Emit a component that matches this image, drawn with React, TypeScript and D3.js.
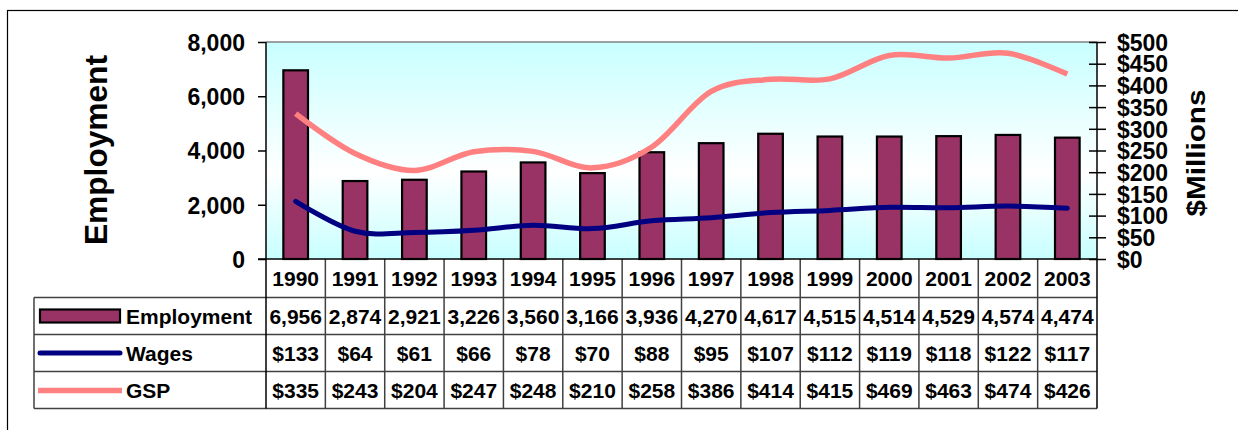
import React, { useEffect, useRef } from 'react';
import * as d3 from 'd3';

const years = ['1990', '1991', '1992', '1993', '1994', '1995', '1996', '1997', '1998', '1999', '2000', '2001', '2002', '2003'];
const employment = [6956, 2874, 2921, 3226, 3560, 3166, 3936, 4270, 4617, 4515, 4514, 4529, 4574, 4474];
const wages = [133, 64, 61, 66, 78, 70, 88, 95, 107, 112, 119, 118, 122, 117];
const gsp = [335, 243, 204, 247, 248, 210, 258, 386, 414, 415, 469, 463, 474, 426];

const employmentTicks = [0, 2000, 4000, 6000, 8000];
const millionTicks = [0, 50, 100, 150, 200, 250, 300, 350, 400, 450, 500];

const FONT = "'Liberation Sans', Arial, sans-serif";
const BAR_COLOR = '#993366';
const WAGES_COLOR = '#000080';
const GSP_COLOR = '#FF8080';

const App = () => {
    const svgRef = useRef(null);

    useEffect(() => {
        const svg = d3.select(svgRef.current);
        svg.selectAll('*').remove();

        const plot = { left: 266, right: 1097, top: 42, bottom: 259 };
        const tableTop = 297.5;
        const rowH = 37;
        const tableLeft = 34;
        const tableBottom = tableTop + rowH * 3;

        // outer frame (runs off the right / bottom edge)
        svg.append('rect')
            .attr('x', 7.5).attr('y', 10.5)
            .attr('width', 1300).attr('height', 500)
            .attr('fill', 'none').attr('stroke', '#000').attr('stroke-width', 1.2);

        const grad = svg.append('defs').append('linearGradient')
            .attr('id', 'plotBg').attr('x1', 0).attr('y1', 0).attr('x2', 0).attr('y2', 1);
        grad.append('stop').attr('offset', 0).attr('stop-color', '#c8ffff');
        grad.append('stop').attr('offset', 0.6).attr('stop-color', '#ffffff');
        grad.append('stop').attr('offset', 1).attr('stop-color', '#c8ffff');

        svg.append('rect')
            .attr('x', plot.left).attr('y', plot.top)
            .attr('width', plot.right - plot.left).attr('height', plot.bottom - plot.top)
            .attr('fill', 'url(#plotBg)');
        svg.append('line')
            .attr('x1', plot.left).attr('x2', plot.right)
            .attr('y1', plot.top).attr('y2', plot.top)
            .attr('stroke', '#808080').attr('stroke-width', 1.5);

        const x = d3.scaleBand().domain(years).range([plot.left, plot.right]);
        const yL = d3.scaleLinear().domain([0, 8000]).range([plot.bottom, plot.top]);
        const yR = d3.scaleLinear().domain([0, 500]).range([plot.bottom, plot.top]);
        const cx = (d: string) => (x(d) as number) + x.bandwidth() / 2;
        const barW = x.bandwidth() * 0.415;

        // bars
        svg.append('g').selectAll('rect')
            .data(employment)
            .join('rect')
            .attr('x', (_, i) => cx(years[i]) - barW / 2)
            .attr('y', d => yL(d))
            .attr('width', barW)
            .attr('height', d => plot.bottom - yL(d))
            .attr('fill', BAR_COLOR)
            .attr('stroke', '#000')
            .attr('stroke-width', 2.2);

        // smoothed lines on the right axis
        const line = d3.line<number>()
            .x((_, i) => cx(years[i]))
            .y(d => yR(d))
            .curve(d3.curveCardinal.tension(0));

        svg.append('path').datum(wages)
            .attr('fill', 'none').attr('stroke', WAGES_COLOR)
            .attr('stroke-width', 5).attr('stroke-linecap', 'round')
            .attr('d', line);
        svg.append('path').datum(gsp)
            .attr('fill', 'none').attr('stroke', GSP_COLOR)
            .attr('stroke-width', 5.5)
            .attr('d', line);

        // left axis
        const left = svg.append('g')
            .attr('transform', `translate(${plot.left},0)`)
            .call(d3.axisLeft(yL).tickValues(employmentTicks).tickSize(8).tickSizeOuter(0).tickPadding(13).tickFormat(d3.format(',')));
        left.select('.domain').remove();
        left.selectAll('.tick line').attr('stroke', '#000').attr('stroke-width', 1.5);
        left.selectAll('.tick text')
            .attr('font-family', FONT).attr('font-weight', 'bold').attr('font-size', 23)
            .attr('dy', '0.36em').attr('fill', '#000');

        // right axis with ticks crossing the line
        const right = svg.append('g')
            .attr('transform', `translate(${plot.right},0)`)
            .call(d3.axisRight(yR).tickValues(millionTicks).tickSize(9).tickSizeOuter(0).tickPadding(11).tickFormat(d => `$${d}`));
        right.select('.domain').remove();
        right.selectAll('.tick line').attr('x1', -8).attr('stroke', '#000').attr('stroke-width', 1.5);
        right.selectAll('.tick text')
            .attr('font-family', FONT).attr('font-weight', 'bold').attr('font-size', 23)
            .attr('dy', '0.36em').attr('fill', '#000');

        // axis titles
        svg.append('text')
            .attr('transform', `translate(107,150) rotate(-90)`)
            .attr('text-anchor', 'middle')
            .attr('font-family', FONT).attr('font-weight', 'bold').attr('font-size', 31)
            .attr('textLength', 190).attr('lengthAdjust', 'spacingAndGlyphs')
            .text('Employment');
        svg.append('text')
            .attr('transform', `translate(1205,153) rotate(-90)`)
            .attr('text-anchor', 'middle')
            .attr('font-family', FONT).attr('font-weight', 'bold').attr('font-size', 25)
            .attr('textLength', 127).attr('lengthAdjust', 'spacingAndGlyphs')
            .text('$Millions');

        // data table
        const grid = svg.append('g').attr('stroke', '#404040').attr('stroke-width', 1.5);
        years.forEach((yr, i) => {
            if (i === 0) return;
            grid.append('line')
                .attr('x1', x(yr) as number).attr('x2', x(yr) as number)
                .attr('y1', plot.bottom).attr('y2', tableBottom);
        });
        grid.append('line').attr('x1', tableLeft).attr('x2', tableLeft).attr('y1', tableTop).attr('y2', tableBottom);
        [0, 1, 2, 3].forEach(r => {
            grid.append('line')
                .attr('x1', tableLeft).attr('x2', plot.right)
                .attr('y1', tableTop + r * rowH).attr('y2', tableTop + r * rowH);
        });

        // axis lines on top of the table grid
        svg.append('line').attr('x1', plot.left).attr('x2', plot.left).attr('y1', plot.top).attr('y2', tableBottom)
            .attr('stroke', '#000').attr('stroke-width', 1.5);
        svg.append('line').attr('x1', plot.right).attr('x2', plot.right).attr('y1', plot.top).attr('y2', tableBottom)
            .attr('stroke', '#000').attr('stroke-width', 1.5);
        svg.append('line').attr('x1', plot.left - 8).attr('x2', plot.right).attr('y1', plot.bottom).attr('y2', plot.bottom)
            .attr('stroke', '#000').attr('stroke-width', 1.5);

        const cellText = (g: any, xPos: number, yPos: number, txt: string, anchor = 'middle') =>
            g.append('text')
                .attr('x', xPos).attr('y', yPos).attr('dy', '0.36em')
                .attr('text-anchor', anchor)
                .attr('font-family', FONT).attr('font-weight', 'bold').attr('font-size', 21)
                .text(txt);

        const txt = svg.append('g');
        years.forEach(yr => cellText(txt, cx(yr), (plot.bottom + tableTop) / 2, yr));

        const rows = [
            employment.map(d => d3.format(',')(d)),
            wages.map(d => `$${d}`),
            gsp.map(d => `$${d}`),
        ];
        const rowNames = ['Employment', 'Wages', 'GSP'];
        rows.forEach((vals, r) => {
            const yMid = tableTop + rowH * r + rowH / 2;
            vals.forEach((v, i) => cellText(txt, cx(years[i]), yMid, v));
            cellText(txt, 126, yMid, rowNames[r], 'start');
        });

        // legend keys
        const keyY = (r: number) => tableTop + rowH * r + rowH / 2;
        svg.append('rect')
            .attr('x', 40).attr('y', keyY(0) - 6.5).attr('width', 80).attr('height', 13)
            .attr('fill', BAR_COLOR).attr('stroke', '#000').attr('stroke-width', 2.2);
        svg.append('line')
            .attr('x1', 40).attr('x2', 120).attr('y1', keyY(1)).attr('y2', keyY(1))
            .attr('stroke', WAGES_COLOR).attr('stroke-width', 5).attr('stroke-linecap', 'round');
        svg.append('line')
            .attr('x1', 38).attr('x2', 122).attr('y1', keyY(2) + 0.5).attr('y2', keyY(2) + 0.5)
            .attr('stroke', GSP_COLOR).attr('stroke-width', 5.5);
    }, []);

    return (
        <div>
            <style>{'body{margin:0;background:#fff}'}</style>
            <svg ref={svgRef} width={1238} height={430} style={{ display: 'block' }} />
        </div>
    );
};

export default App;
